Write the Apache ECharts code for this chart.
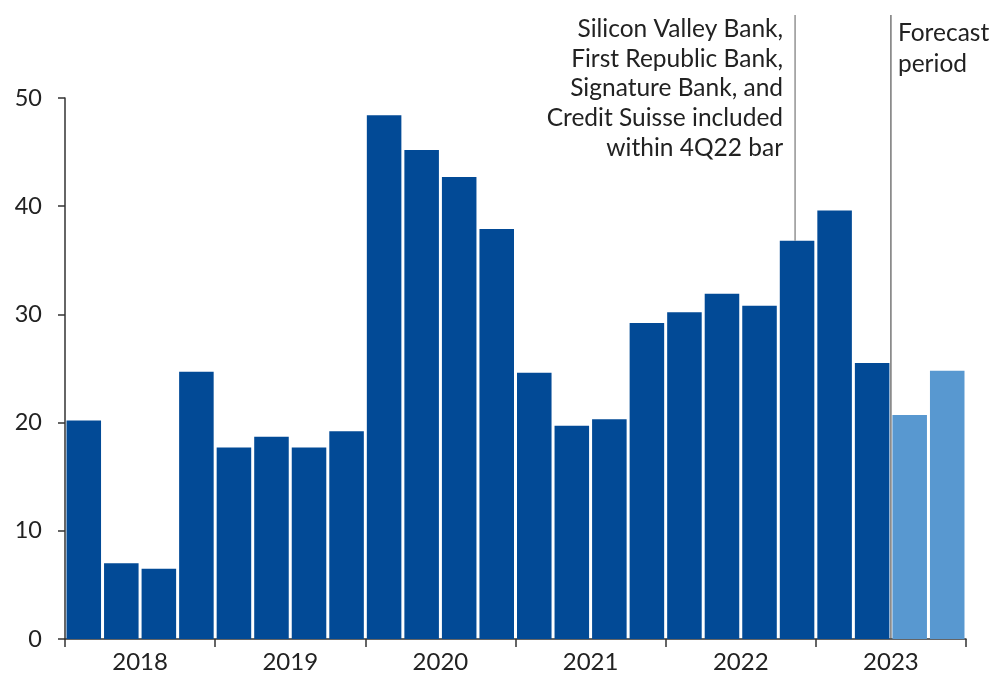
<!DOCTYPE html>
<html>
<head>
<meta charset="utf-8">
<script src="https://cdn.jsdelivr.net/npm/echarts@6/dist/echarts.min.js"></script>
<style>
  html, body { margin: 0; padding: 0; background: #fff; }
  #chart { width: 994px; height: 675px; }
</style>
</head>
<body>
<div id="chart"></div>
<script>
// Quarterly values, 1Q18 through 4Q23
const quarters = [
  '1Q18', '2Q18', '3Q18', '4Q18',
  '1Q19', '2Q19', '3Q19', '4Q19',
  '1Q20', '2Q20', '3Q20', '4Q20',
  '1Q21', '2Q21', '3Q21', '4Q21',
  '1Q22', '2Q22', '3Q22', '4Q22',
  '1Q23', '2Q23', '3Q23', '4Q23'
];
const values = [
  20.2, 7.0, 6.5, 24.7,
  17.7, 18.7, 17.7, 19.2,
  48.4, 45.2, 42.7, 37.9,
  24.6, 19.7, 20.3, 29.2,
  30.2, 31.9, 30.8, 36.8,
  39.6, 25.5, 20.7, 24.8
];
const forecastQuarters = ['3Q23', '4Q23'];
const years = ['2018', '2019', '2020', '2021', '2022', '2023'];
const yTicks = { min: 0, max: 50, interval: 10 };

const noteQuarter = '4Q22';
const noteLines = [
  'Silicon Valley Bank,',
  'First Republic Bank,',
  'Signature Bank, and',
  'Credit Suisse included',
  'within 4Q22 bar'
];
const forecastLines = ['Forecast', 'period'];

const DARK = '#024a96';
const LIGHT = '#5898d0';
const FONT = 'Lato, "Noto Sans", sans-serif';
const TEXT = '#222';

const chart = echarts.init(document.getElementById('chart'), null, { renderer: 'canvas' });

const option = {
  animation: false,
  backgroundColor: '#fff',
  grid: { left: 65, right: 28, top: 98, bottom: 36, containLabel: false },
  xAxis: [
    {
      type: 'category',
      data: quarters,
      show: false,
      boundaryGap: true
    },
    {
      type: 'category',
      data: years,
      position: 'bottom',
      boundaryGap: true,
      axisLine: { show: true, lineStyle: { color: '#333', width: 1.5 } },
      axisTick: { show: true, length: 8, inside: false, lineStyle: { color: '#333', width: 1.5 } },
      axisLabel: { color: TEXT, fontSize: 24, fontFamily: FONT, margin: 11 },
      splitLine: { show: false }
    }
  ],
  yAxis: {
    type: 'value',
    min: yTicks.min,
    max: yTicks.max,
    interval: yTicks.interval,
    axisLine: { show: true, lineStyle: { color: '#333', width: 1.5 } },
    axisTick: { show: true, length: 7, lineStyle: { color: '#333', width: 1.5 } },
    axisLabel: { color: TEXT, fontSize: 23.5, fontFamily: FONT, margin: 23 },
    splitLine: { show: false }
  },
  series: [
    {
      type: 'bar',
      xAxisIndex: 0,
      data: values,
      barCategoryGap: '8%',
      itemStyle: {
        color: (p) => forecastQuarters.includes(quarters[p.dataIndex]) ? LIGHT : DARK
      }
    }
  ]
};

chart.setOption(option);

// Annotation lines and notes, placed through the axes' own scales
const noteIdx = quarters.indexOf(noteQuarter);
const noteX = chart.convertToPixel({ xAxisIndex: 0 }, noteQuarter) - 2;
const noteBarTop = chart.convertToPixel({ yAxisIndex: 0 }, values[noteIdx]);
const firstForecast = quarters.indexOf(forecastQuarters[0]);
const fcLeft = chart.convertToPixel({ xAxisIndex: 0 }, quarters[firstForecast - 1]);
const fcRight = chart.convertToPixel({ xAxisIndex: 0 }, quarters[firstForecast]);
const forecastX = (fcLeft + fcRight) / 2;
const baseY = chart.convertToPixel({ yAxisIndex: 0 }, 0);
const lineTop = 15;

const graphics = [
  {
    type: 'line',
    shape: { x1: noteX, y1: lineTop, x2: noteX, y2: noteBarTop },
    style: { stroke: '#777', lineWidth: 1.2 },
    z: 10
  },
  {
    type: 'line',
    shape: { x1: forecastX, y1: lineTop, x2: forecastX, y2: baseY },
    style: { stroke: '#555', lineWidth: 1.2 },
    z: 10
  }
];

noteLines.forEach((t, i) => {
  graphics.push({
    type: 'text',
    x: noteX - 12,
    y: 29 + i * 29.7,
    style: {
      text: t,
      fill: TEXT,
      font: '24.5px ' + FONT,
      textAlign: 'right',
      textVerticalAlign: 'middle'
    },
    z: 10
  });
});

forecastLines.forEach((t, i) => {
  graphics.push({
    type: 'text',
    x: forecastX + 7,
    y: 33 + i * 31,
    style: {
      text: t,
      fill: TEXT,
      font: '24.5px ' + FONT,
      textAlign: 'left',
      textVerticalAlign: 'middle'
    },
    z: 10
  });
});

chart.setOption({ graphic: graphics });
</script>
</body>
</html>
